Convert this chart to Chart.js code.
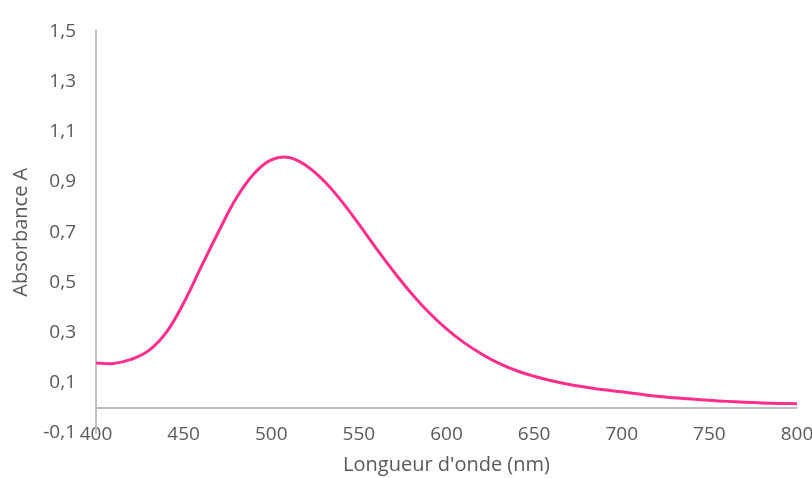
<!DOCTYPE html>
<html>
<head>
<meta charset="utf-8">
<script src="https://cdn.jsdelivr.net/npm/chart.js@4/dist/chart.umd.min.js"></script>
<style>
  html, body { margin: 0; padding: 0; background: #fff; }
  #wrap { width: 812px; height: 478px; }
</style>
</head>
<body>
<div id="wrap"><canvas id="myChart"></canvas></div>
<script>
// spectre d'absorbance
const wavelengths = [400, 410, 420, 430, 440, 450, 460, 470, 480, 490,
  500, 510, 520, 530, 540, 550, 560, 570, 580, 590,
  600, 610, 620, 630, 640, 650, 660, 670, 680, 690,
  700, 710, 720, 730, 740, 750, 760, 770, 780, 790, 800];
const absorbance = [0.179, 0.177, 0.193, 0.228, 0.300, 0.418, 0.562, 0.703, 0.835, 0.932,
  0.988, 0.998, 0.965, 0.905, 0.825, 0.732, 0.635, 0.542, 0.456, 0.380,
  0.315, 0.260, 0.215, 0.177, 0.148, 0.126, 0.108, 0.093, 0.082, 0.072,
  0.064, 0.055, 0.046, 0.040, 0.035, 0.030, 0.026, 0.023, 0.020, 0.018, 0.017];
const yTicks = [-0.1, 0.1, 0.3, 0.5, 0.7, 0.9, 1.1, 1.3, 1.5];
const xTicks = [400, 450, 500, 550, 600, 650, 700, 750, 800];

const axisGray = "#bfbfbf";
const textGray = "#595959";
const fontFamily = "'Open Sans', sans-serif";

// horizontal axis line drawn at A = 0
const zeroLine = {
  id: "zeroLine",
  beforeDatasetsDraw(chart) {
    const { ctx, chartArea, scales } = chart;
    const y = scales.y.getPixelForValue(0);
    ctx.save();
    ctx.strokeStyle = axisGray;
    ctx.lineWidth = 2;
    ctx.beginPath();
    ctx.moveTo(chartArea.left, y);
    ctx.lineTo(chartArea.right, y);
    ctx.stroke();
    ctx.restore();
  },
};

const points = wavelengths.map((w, i) => ({ x: w, y: absorbance[i] }));

new Chart(document.getElementById("myChart"), {
  type: "line",
  data: {
    datasets: [
      {
        data: points,
        borderColor: "#ff2d8c",
        borderWidth: 3,
        pointRadius: 0,
        tension: 0.4,
        fill: false,
      },
    ],
  },
  options: {
    responsive: true,
    maintainAspectRatio: false,
    animation: false,
    // bottom padding leaves room for the x labels and title (x axis is anchored, not stacked)
    layout: { padding: { top: 26, right: 15, left: 0, bottom: 45 } },
    plugins: { legend: { display: false }, tooltip: { enabled: false } },
    scales: {
      x: {
        type: "linear",
        min: 400,
        max: 800,
        // anchored at the bottom of the y range so labels are not clipped
        position: { y: -0.1 },
        afterBuildTicks: (scale) => { scale.ticks = xTicks.map((v) => ({ value: v })); },
        afterFit: (scale) => { scale.height = 45; },
        grid: { display: false, drawTicks: false },
        border: { display: false },
        ticks: { color: textGray, font: { family: fontFamily, size: 19 }, padding: -10, maxRotation: 0 },
        title: {
          display: true,
          text: "Longueur d'onde (nm)",
          color: textGray,
          font: { family: fontFamily, size: 20 },
          padding: { top: 0, bottom: 1 },
        },
      },
      y: {
        min: -0.1,
        max: 1.5,
        afterBuildTicks: (scale) => { scale.ticks = yTicks.map((v) => ({ value: v })); },
        afterFit: (scale) => { scale.width = 96; },
        grid: { display: false, drawTicks: false },
        border: { display: true, color: axisGray, width: 2 },
        ticks: {
          color: textGray,
          font: { family: fontFamily, size: 19 },
          padding: 20,
          callback: (v) => v.toFixed(1).replace(".", ","),
        },
        title: {
          display: true,
          text: "Absorbance A",
          color: textGray,
          font: { family: fontFamily, size: 20 },
          padding: { top: 9, bottom: 9 },
        },
      },
    },
  },
  plugins: [zeroLine],
});
</script>
</body>
</html>
